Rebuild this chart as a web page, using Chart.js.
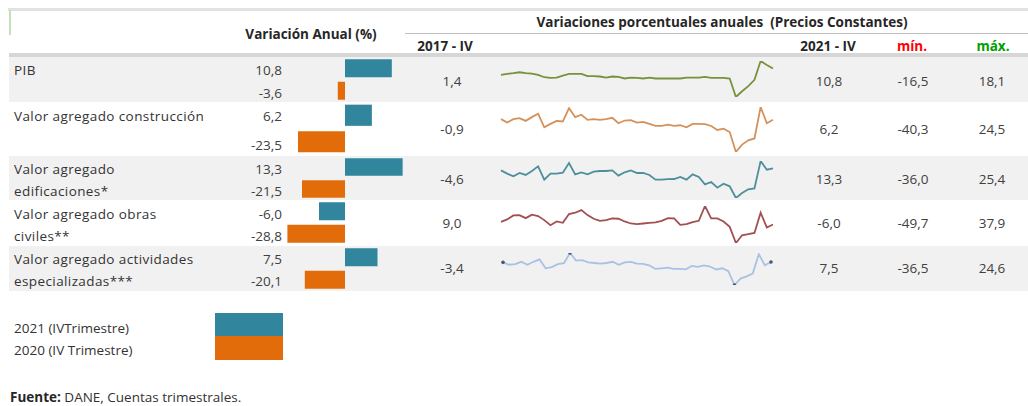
<!DOCTYPE html>
<html lang="es">
<head>
<meta charset="utf-8">
<script src="https://cdn.jsdelivr.net/npm/chart.js@4.4.1/dist/chart.umd.min.js"></script>
<style>
  body { margin: 0; width: 1028px; height: 406px; overflow: hidden; background: #fff; position: relative;
         font-family: "Open Sans", sans-serif; font-size: 13.5px; color: #404040; }
  .t { position: absolute; white-space: nowrap; line-height: 18px; }
  .b { font-weight: bold; color: #262626; }
  .c { transform: translateX(-50%); }
  .lab { letter-spacing: 0.4px; color: #333; }
  .band { position: absolute; left: 9px; right: 0; background: #f1f1f1; }
  canvas { position: absolute; }
</style>
</head>
<body>
<div id="page"></div>
<script>
  // --- données ---
  const sectores = [
    ["PIB"],
    ["Valor agregado construcción"],
    ["Valor agregado", "edificaciones*"],
    ["Valor agregado obras", "civiles**"],
    ["Valor agregado actividades", "especializadas***"]
  ];
  const var2021 = [10.8, 6.2, 13.3, -6.0, 7.5];     // 2021 (IV Trimestre)
  const var2020 = [-3.6, -23.5, -21.5, -28.8, -20.1]; // 2020 (IV Trimestre)
  const val2017 = [1.4, -0.9, -4.6, 9.0, -3.4];
  const val2021 = [10.8, 6.2, 13.3, -6.0, 7.5];
  const minimos = [-16.5, -40.3, -36.0, -49.7, -36.5];
  const maximos = [18.1, 24.5, 25.4, 37.9, 24.6];

  // trimestres 2010-IV .. 2021-IV
  const trimestres = ["2010-IV"];
  for (let a = 2011; a <= 2021; a++) ["I", "II", "III", "IV"].forEach(q => trimestres.push(a + "-" + q));

  const pib = [4.8, 5.7, 6.4, 7.3, 6.4, 6.0, 4.8, 2.5, 1.9, 2.2, 4.1, 5.7, 5.7, 5.7, 3.5, 3.5, 3.2, 2.2, 3.2, 2.9,
    1.3, 2.2, 1.9, 1.3, 2.2, 1.3, 1.3, 1.4, 1.3, 1.3, 2.2, 2.2, 2.2, 2.9, 1.9, 1.9, 1.9, 1.3, -16.5, -11.0,
    -6.0, 0.0, 18.1, 14.3, 10.8];
  const construccion = [7.0, 2.1, 7.0, 8.4, 4.5, 9.9, 14.8, -4.7, 0.2, 4.5, 3.6, 23.0, 9.9, 13.3, 6.0, 7.0, 6.0, 7.0, 8.9, 1.1,
    5.0, 5.5, 2.1, 3.1, 0.2, -2.8, -2.8, -0.9, -2.8, -1.8, -4.7, 0.2, 0.2, -0.3, -2.8, -8.6, -6.7, -11.5, -40.3, -29.6,
    -23.5, -20.8, 24.5, 1.1, 6.2];
  const edificaciones = [9.9, 4.4, 0.0, 5.5, 2.2, 8.8, 16.6, -5.6, 4.4, 4.4, 6.0, 22.1, 3.3, 6.6, 3.3, 7.7, 8.8, 8.8, 9.9, 1.1,
    6.6, 9.9, 5.5, 5.5, 2.2, -5.6, -5.6, -4.6, -4.5, -1.1, -5.6, 3.3, -1.1, -13.3, -9.4, -18.8, -12.2, -16.6, -36.0, -27.7,
    -21.5, -20.0, 25.4, 11.0, 13.3];
  const obrasCiviles = [0.5, 6.1, 15.6, 16.4, 9.2, 17.2, 14.0, 4.5, -7.5, 1.3, -1.9, 18.8, 22.0, 28.3, 16.4, 7.7, 2.9, 4.5, 8.4, 7.7,
    1.3, -3.5, -5.1, -3.5, -1.9, -1.1, 2.9, 9.0, 8.4, -6.7, -5.1, -0.3, 2.9, 37.9, 8.4, 8.4, 1.3, -11.5, -49.7, -31.4,
    -28.8, -25.8, 22.0, -13.0, -6.0];
  const especializadas = [6.7, 2.2, 3.3, 7.8, 2.2, 7.8, 12.3, -4.6, -2.3, 3.3, 5.0, 24.6, 10.0, 11.1, 6.7, 5.5, 4.4, 5.5, 7.8, 2.2,
    6.7, 7.8, 4.4, 3.9, 1.1, -5.7, -4.6, -3.4, -5.7, -5.7, -6.8, 0.0, -1.7, 1.1, -1.2, -6.8, -4.6, -10.2, -36.5, -24.2,
    -20.1, -14.6, 22.4, 1.1, 7.5];
  const series = [pib, construccion, edificaciones, obrasCiviles, especializadas];

  // --- mise en page ---
  const filas = [[57, 45], [102, 53], [156, 44], [200, 45], [246, 45]];   // top, hauteur de chaque ligne
  const lineas = [[61, 97], [107, 152], [161, 198], [206, 243], [251, 287]]; // zone des mini-courbes
  const coloresLinea = ["#76923c", "#d4915a", "#4d8f9a", "#a24f50", "#a9c1e4"];
  const etiquetasY = [[70], [116], [169, 191], [214, 236], [259, 281]];
  const valoresY = [[70, 93], [116, 145], [169, 191], [214, 236], [259, 281]];
  const columnasY = [81, 129, 179, 223, 268];
  const TEAL = "#31859c", NARANJA = "#e36c0a";

  const page = document.getElementById("page");
  const fmt = v => v.toFixed(1).replace(".", ",");

  function texto(txt, x, yc, cls, extra) {
    const d = document.createElement("div");
    d.className = "t " + (cls || "");
    d.textContent = txt;
    d.style.left = x + "px";
    d.style.top = (yc - 9) + "px";
    if (extra) Object.assign(d.style, extra);
    page.appendChild(d);
    return d;
  }
  function caja(x, y, w, h, color) {
    const d = document.createElement("div");
    Object.assign(d.style, { position: "absolute", left: x + "px", top: y + "px", width: w + "px", height: h + "px", background: color });
    page.appendChild(d);
  }
  function lienzo(x, y, w, h) {
    const cv = document.createElement("canvas");
    cv.width = w; cv.height = h;
    cv.style.left = x + "px"; cv.style.top = y + "px";
    page.appendChild(cv);
    return cv;
  }

  // bandes grises alternées
  filas.forEach((f, i) => {
    if (i % 2 === 0) {
      const d = document.createElement("div");
      d.className = "band";
      d.style.top = f[0] + "px"; d.style.height = f[1] + "px";
      page.appendChild(d);
    }
  });

  // lignes d'en-tête
  caja(8, 8, 1020, 3, "#e2e2e2");
  caja(9, 10, 2, 25, "#c5e0b4");
  caja(405, 33, 623, 1, "#bfbfbf");
  caja(9, 53, 1019, 4, "#d6d6d6");

  texto("Variación Anual (%)", 311, 34, "b c");
  texto("Variaciones porcentuales anuales  (Precios Constantes)", 722, 22, "b c", { whiteSpace: "pre" });
  texto("2017 - IV", 445, 46, "b c");
  texto("2021 - IV", 828, 46, "b c");
  texto("mín.", 912, 46, "b c", { color: "#ff0000" });
  texto("máx.", 993, 46, "b c", { color: "#00a000" });

  Chart.defaults.font.family = "'Open Sans', sans-serif";

  sectores.forEach((lineasTxt, i) => {
    lineasTxt.forEach((l, k) => texto(l, 14, etiquetasY[i][k], "lab"));
    texto(fmt(var2021[i]), 0, valoresY[i][0], "", { left: "auto", right: (1028 - 282) + "px" });
    texto(fmt(var2020[i]), 0, valoresY[i][1], "", { left: "auto", right: (1028 - 282) + "px" });
    texto(fmt(val2017[i]), 452, columnasY[i], "c");
    texto(fmt(val2021[i]), 829, columnasY[i], "c");
    texto(fmt(minimos[i]), 913, columnasY[i], "c");
    texto(fmt(maximos[i]), 992, columnasY[i], "c");

    // barres 2021 / 2020 (échelles distinctes, zéro à x=345)
    const f = filas[i];
    new Chart(lienzo(280, f[0], 130, f[1]), {
      type: "bar",
      data: {
        labels: ["2021", "2020"],
        datasets: [
          { data: [var2021[i], null], backgroundColor: TEAL, xAxisID: "x21", grouped: false, barPercentage: 0.8, categoryPercentage: 1 },
          { data: [null, var2020[i]], backgroundColor: NARANJA, xAxisID: "x20", grouped: false, barPercentage: 0.8, categoryPercentage: 1 }
        ]
      },
      options: {
        indexAxis: "y", responsive: false, animation: false, events: [],
        layout: { padding: 0 },
        plugins: { legend: { display: false }, tooltip: { enabled: false } },
        scales: {
          y: { display: false },
          x21: { type: "linear", axis: "x", display: false, min: -15, max: 15 },
          x20: { type: "linear", axis: "x", display: false, min: -32.5, max: 32.5 }
        }
      }
    });

    // mini-courbe
    const ln = lineas[i];
    const datos = series[i];
    const marcas = i === 4;
    const radios = datos.map((v, k) => (marcas && (k === 0 || k === datos.length - 1 || v === minimos[i] || v === maximos[i])) ? 1.8 : 0);
    new Chart(lienzo(499, ln[0] - 2, 276, ln[1] - ln[0] + 4), {
      type: "line",
      data: {
        labels: trimestres,
        datasets: [{ data: datos, borderColor: coloresLinea[i], borderWidth: 1.8, tension: 0,
          pointRadius: radios, pointBackgroundColor: "#45577a", pointBorderWidth: 0 }]
      },
      options: {
        responsive: false, animation: false, events: [],
        layout: { padding: 2 },
        plugins: { legend: { display: false }, tooltip: { enabled: false } },
        scales: {
          x: { display: false },
          y: { display: false, min: minimos[i], max: maximos[i] }
        }
      }
    });
  });

  // légende
  texto("2021 (IVTrimestre)", 14, 328, "", { color: "#333" });
  texto("2020 (IV Trimestre)", 14, 350, "", { color: "#333" });
  caja(215, 313, 68, 23, TEAL);
  caja(215, 336, 68, 24, NARANJA);

  const fuente = texto("", 10, 397, "", { color: "#333" });
  fuente.innerHTML = "<b style='color:#262626'>Fuente:</b> DANE, Cuentas trimestrales.";
</script>
</body>
</html>
